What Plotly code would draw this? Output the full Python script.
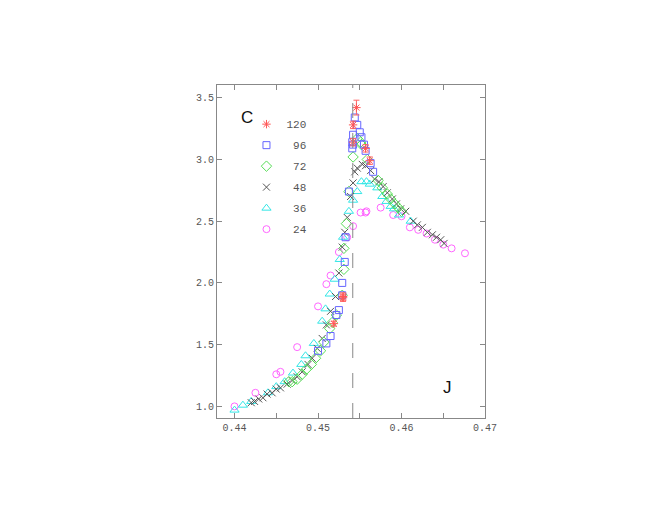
import plotly.graph_objects as go

# critical coupling (dashed line)
J_c = 0.45416

# L = 120
j_120 = [0.4519, 0.4530, 0.4530, 0.4542, 0.4542, 0.4546, 0.4557, 0.4562]
c_120 = [1.67, 1.89, 1.88, 3.28, 3.14, 3.42, 3.09, 2.99]
e_120 = [0.02, 0.03, 0.03, 0.03, 0.03, 0.06, 0.03, 0.03]

# L = 96
j_96 = [0.4500, 0.4510, 0.4515, 0.4522, 0.4525, 0.4529, 0.4529, 0.4532, 0.4533,
        0.4537, 0.4541, 0.4541, 0.4542, 0.4542, 0.4544, 0.4547, 0.4550, 0.4552,
        0.4555, 0.4557, 0.4563, 0.4566]
c_96 = [1.45, 1.51, 1.57, 1.74, 1.78, 1.90, 2.00, 2.17, 2.37,
        2.74, 3.09, 3.14, 3.20, 3.12, 3.34, 3.28, 3.22, 3.18,
        3.12, 3.07, 2.97, 2.90]

# L = 72
j_72 = [0.4465, 0.4469, 0.4475, 0.4481, 0.4486, 0.4492, 0.4497, 0.4503, 0.4507,
        0.4514, 0.4517, 0.4522, 0.4529, 0.4531, 0.4531, 0.4534, 0.4537, 0.4542,
        0.4547, 0.4551, 0.4552, 0.4559, 0.4572, 0.4577, 0.4583, 0.4587, 0.4592,
        0.4596, 0.4600]
c_72 = [1.20, 1.20, 1.22, 1.26, 1.30, 1.34, 1.39, 1.45, 1.52,
        1.63, 1.68, 1.74, 1.90, 2.11, 2.28, 2.48, 2.74, 3.02,
        3.17, 3.14, 3.12, 3.00, 2.83, 2.77, 2.72, 2.68, 2.64,
        2.61, 2.58]

# L = 48
j_48 = [0.4420, 0.4424, 0.4429, 0.4434, 0.4439, 0.4445, 0.4450, 0.4455, 0.4463,
        0.4469, 0.4475, 0.4481, 0.4488, 0.4493, 0.4499, 0.4505, 0.4510, 0.4515,
        0.4521, 0.4525, 0.4529, 0.4532, 0.4535, 0.4539, 0.4542, 0.4544, 0.4547,
        0.4553, 0.4557, 0.4563, 0.4568, 0.4573, 0.4578, 0.4583, 0.4589, 0.4594,
        0.4599, 0.4605, 0.4614, 0.4619, 0.4625, 0.4631, 0.4637, 0.4642, 0.4647,
        0.4651]
c_48 = [1.03, 1.04, 1.06, 1.07, 1.10, 1.11, 1.14, 1.15, 1.18,
        1.21, 1.24, 1.28, 1.34, 1.39, 1.47, 1.55, 1.66, 1.77,
        1.89, 2.08, 2.29, 2.41, 2.53, 2.70, 2.81, 2.90, 2.93,
        2.96, 2.95, 2.91, 2.84, 2.82, 2.78, 2.73, 2.68, 2.64,
        2.60, 2.58, 2.50, 2.47, 2.45, 2.41, 2.39, 2.37, 2.35,
        2.32]

# L = 36
j_36 = [0.4400, 0.4410, 0.4420, 0.4440, 0.4450, 0.4460, 0.4470, 0.4480, 0.4485,
        0.4495, 0.4505, 0.4509, 0.4514, 0.4520, 0.4526, 0.4530, 0.4537, 0.4542,
        0.4547, 0.4552, 0.4558, 0.4562, 0.4571, 0.4577, 0.4582, 0.4587, 0.4591,
        0.4597, 0.4611]
c_36 = [0.97, 1.01, 1.04, 1.11, 1.16, 1.20, 1.27, 1.34, 1.41,
        1.51, 1.69, 1.79, 1.91, 2.03, 2.19, 2.37, 2.58, 2.67,
        2.74, 2.82, 2.82, 2.80, 2.77, 2.70, 2.66, 2.62, 2.60,
        2.55, 2.50]

# L = 24
j_24 = [0.4400, 0.4425, 0.4450, 0.4455, 0.4475, 0.4500, 0.4510, 0.4515, 0.4525,
        0.4535, 0.4542, 0.4551, 0.4557, 0.4558, 0.4575, 0.4590, 0.4600, 0.4610,
        0.4620, 0.4630, 0.4640, 0.4650, 0.4660, 0.4676]
c_24 = [1.00, 1.11, 1.26, 1.28, 1.48, 1.81, 1.99, 2.06, 2.25,
        2.37, 2.46, 2.57, 2.57, 2.58, 2.61, 2.55, 2.54, 2.45,
        2.43, 2.40, 2.35, 2.31, 2.28, 2.24]

mono = "Liberation Mono, Courier New, monospace"

fig = go.Figure()

# drawn smallest L first, legendrank puts 120 on top of the legend
fig.add_trace(go.Scatter(x=j_24, y=c_24, mode="markers", name="\u00a024",
                         legendrank=6, legendgroup="24",
                         marker=dict(symbol="circle-open", size=7, color="#ff66ff",
                                     line=dict(width=1))))
fig.add_trace(go.Scatter(x=j_36, y=c_36, mode="markers", name="\u00a036",
                         legendrank=5, legendgroup="36",
                         marker=dict(symbol="triangle-up-open", size=8, color="#33e6e6",
                                     line=dict(width=1))))
fig.add_trace(go.Scatter(x=j_48, y=c_48, mode="markers", name="\u00a048",
                         legendrank=4, legendgroup="48",
                         marker=dict(symbol="x-thin-open", size=7, color="#555555",
                                     line=dict(width=1))))
fig.add_trace(go.Scatter(x=j_72, y=c_72, mode="markers", name="\u00a072",
                         legendrank=3, legendgroup="72",
                         marker=dict(symbol="diamond-open", size=8, color="#55dd55",
                                     line=dict(width=1))))
fig.add_trace(go.Scatter(x=j_96, y=c_96, mode="markers", name="\u00a096",
                         legendrank=2, legendgroup="96",
                         marker=dict(symbol="square-open", size=7, color="#6666ff",
                                     line=dict(width=1))))
fig.add_trace(go.Scatter(x=j_120, y=c_120, mode="markers", name="120",
                         legendrank=1, legendgroup="120",
                         error_y=dict(type="data", array=e_120, color="#ff6666",
                                      thickness=1, width=3),
                         marker=dict(symbol="asterisk-open", size=7, color="#ff5555",
                                     line=dict(width=1, color="#ff5555"))))

fig.add_vline(x=J_c, line=dict(color="#888888", width=1, dash="longdash"))

axis_style = dict(showline=True, linecolor="#888888", linewidth=1, mirror="allticks",
                  ticks="inside", ticklen=5, tickcolor="#888888", showgrid=False,
                  zeroline=False, tickfont=dict(family=mono, size=10, color="#555555"))

fig.update_xaxes(range=[0.4379, 0.47], tickvals=[0.44, 0.45, 0.46, 0.47],
                 ticktext=["0.44", "0.45", "0.46", "0.47"],
                 minor=dict(tickvals=[0.445, 0.455, 0.465], ticks="inside", ticklen=5,
                            tickcolor="#888888"),
                 **axis_style)
fig.update_yaxes(range=[0.906, 3.603], tickvals=[1.0, 1.5, 2.0, 2.5, 3.0, 3.5],
                 ticktext=["1.0", "1.5", "2.0", "2.5", "3.0", "3.5"], **axis_style)

fig.add_annotation(text="C", x=0.112, y=0.901, xref="paper", yref="paper",
                   xanchor="center", yanchor="middle", showarrow=False,
                   font=dict(family="Liberation Sans", size=17, color="#111111"))
fig.add_annotation(text="J", x=0.86, y=0.091, xref="paper", yref="paper",
                   xanchor="center", yanchor="middle", showarrow=False,
                   font=dict(family="Liberation Sans", size=17, color="#111111"))

fig.update_layout(
    width=654, height=505,
    margin=dict(l=209, r=177, t=77, b=95),
    paper_bgcolor="white", plot_bgcolor="white",
    showlegend=True,
    legend=dict(x=0.11, y=0.926, xanchor="left", yanchor="top",
                bgcolor="rgba(0,0,0,0)", itemwidth=30, tracegroupgap=2,
                font=dict(family=mono, size=11, color="#555555")),
)

fig.write_html("out.html")
